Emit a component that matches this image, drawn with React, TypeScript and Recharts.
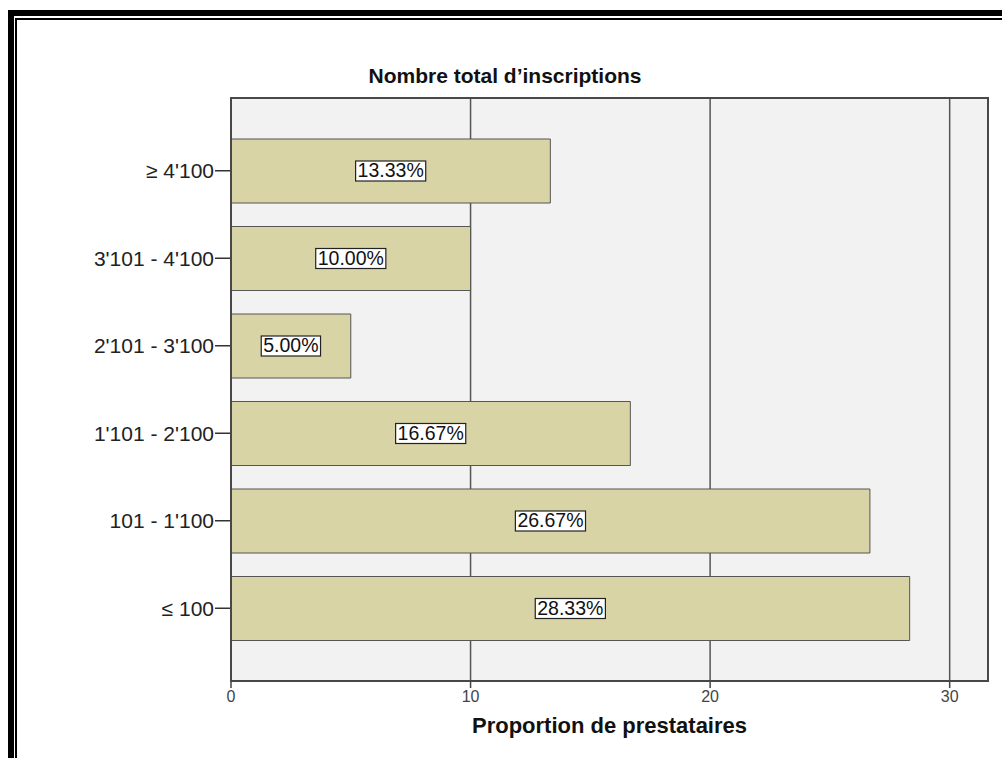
import {
  Bar,
  BarChart,
  CartesianGrid,
  LabelList,
  XAxis,
  YAxis,
} from 'recharts'

const categories = ['≥ 4\'100', '3\'101 - 4\'100', '2\'101 - 3\'100', '1\'101 - 2\'100', '101 - 1\'100', '≤ 100']
const percents = [13.33, 10.0, 5.0, 16.67, 26.67, 28.33]
const xTicks = [0, 10, 20, 30]
const xMax = 31.6

const FONT = '"Liberation Sans", Arial, Helvetica, sans-serif'

const W = 1002
const H = 758
const M = { top: 98, right: 14, bottom: 17, left: 0 }
const Y_W = 231
const X_H = 60

const data = categories.map((label, i) => ({ label, value: percents[i] }))

// rough Arial advance widths, in em
const charW: Record<string, number> = { '.': 0.278, '%': 0.889 }
const textWidth = (s: string, size: number) =>
  s.split('').reduce((w, c) => w + (charW[c] ?? 0.556), 0) * size

function ValueBox(props: any) {
  const vb = props.viewBox ?? {}
  const x = props.x ?? vb.x
  const y = props.y ?? vb.y
  const width = props.width ?? vb.width
  const height = props.height ?? vb.height
  const text = `${Number(props.value).toFixed(2)}%`
  const size = 19.5
  const w = textWidth(text, size) + 4
  const cx = x + width / 2
  const cy = y + height / 2
  return (
    <g>
      <rect x={cx - w / 2} y={cy - 10} width={w} height={20} fill="#fff" stroke="#222" strokeWidth={1.2} />
      <text x={cx} y={cy + 1} textAnchor="middle" dominantBaseline="middle" fontSize={size} fontFamily={FONT} fill="#111">
        {text}
      </text>
    </g>
  )
}

const frameLine = { stroke: '#444', strokeWidth: 1.5 }

export default function App() {
  const plotW = W - M.left - Y_W - M.right
  const plotH = H - M.top - M.bottom - X_H
  return (
    <div style={{ position: 'absolute', left: 0, top: 0, width: W, height: H, background: '#fff', overflow: 'hidden' }}>
      {/* double frame, left and top only */}
      <div style={{ position: 'absolute', left: 8, top: 10, width: 6, height: 748, background: '#000' }} />
      <div style={{ position: 'absolute', left: 15, top: 18, width: 2, height: 740, background: '#000' }} />
      <div style={{ position: 'absolute', left: 8, top: 10, width: 994, height: 6, background: '#000' }} />
      <div style={{ position: 'absolute', left: 15, top: 18, width: 987, height: 2, background: '#000' }} />

      <div
        style={{
          position: 'absolute',
          left: 305,
          top: 63,
          width: 400,
          textAlign: 'center',
          fontFamily: FONT,
          fontWeight: 'bold',
          fontSize: 21,
          lineHeight: '25px',
          color: '#111',
        }}
      >
        Nombre total d’inscriptions
      </div>

      <div style={{ position: 'absolute', left: 0, top: 0 }}>
        <BarChart
          width={W}
          height={H}
          data={data}
          layout="vertical"
          margin={M}
          barSize={64}
        >
          <CartesianGrid horizontal={false} fill="#f2f2f2" stroke="#555" strokeWidth={1.5} />
          <XAxis
            type="number"
            domain={[0, xMax]}
            ticks={xTicks}
            allowDataOverflow
            height={X_H}
            tickSize={7}
            tickMargin={3}
            axisLine={frameLine}
            tickLine={{ stroke: '#444', strokeWidth: 1.5 }}
            tick={{ fontSize: 16, fontFamily: FONT, fill: '#444' }}
            label={{
              value: 'Proportion de prestataires',
              position: 'insideBottom',
              offset: 8,
              style: { fontSize: 22, fontWeight: 'bold', fontFamily: FONT, fill: '#111' },
            }}
          />
          <YAxis
            type="category"
            dataKey="label"
            width={Y_W}
            padding={{ top: 29, bottom: 29 }}
            tickSize={16}
            tickMargin={1}
            axisLine={frameLine}
            tickLine={{ stroke: '#333', strokeWidth: 1.5 }}
            tick={{ fontSize: 21, fontFamily: FONT, fill: '#222' }}
          />
          <Bar dataKey="value" fill="#d8d4a6" stroke="#555" strokeWidth={1} isAnimationActive={false}>
            <LabelList dataKey="value" content={<ValueBox />} />
          </Bar>
        </BarChart>
      </div>

      {/* plot frame */}
      <div
        style={{
          position: 'absolute',
          left: M.left + Y_W - 1,
          top: M.top - 1,
          width: plotW + 2,
          height: plotH + 2,
          border: '2px solid #484848',
          boxSizing: 'border-box',
          pointerEvents: 'none',
        }}
      />
    </div>
  )
}
